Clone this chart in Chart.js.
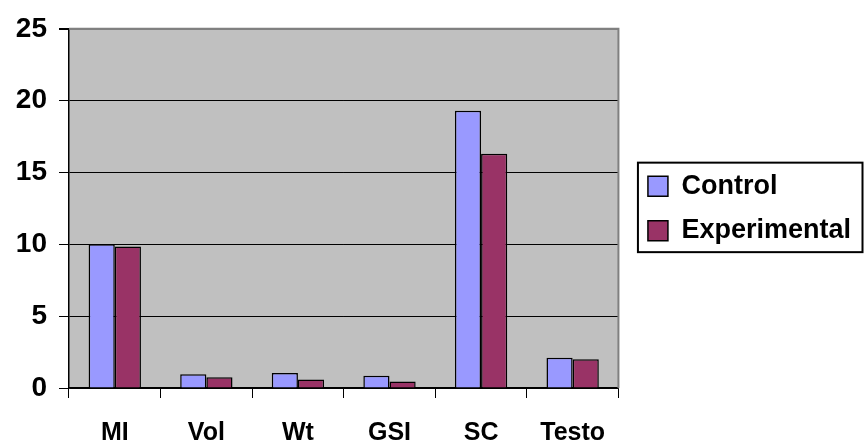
<!DOCTYPE html>
<html>
<head>
<meta charset="utf-8">
<script src="https://cdn.jsdelivr.net/npm/chart.js@4/dist/chart.umd.min.js"></script>
<style>
  html, body { margin: 0; padding: 0; background: #ffffff; }
  #chart { display: block; }
</style>
</head>
<body>
<canvas id="chart" width="864" height="444"></canvas>
<script>
// Measured parameters, control vs experimental group
const categories = ['MI', 'Vol', 'Wt', 'GSI', 'SC', 'Testo'];
const controlValues = [10.0, 0.95, 1.05, 0.85, 19.3, 2.1];
const experimentalValues = [9.85, 0.75, 0.6, 0.45, 16.3, 2.0];
const seriesNames = ['Control', 'Experimental'];
const yMin = 0;
const yMax = 25;
const yStep = 5;

const FONT = 'Liberation Sans, Arial, sans-serif';

// Grey plot background, grey top/right frame and the boxed legend
const plotFrame = {
  id: 'plotFrame',
  beforeDraw(chart) {
    const { ctx, chartArea: a } = chart;
    ctx.save();
    ctx.fillStyle = '#c0c0c0';
    ctx.fillRect(a.left, a.top, a.right - a.left, a.bottom - a.top);
    ctx.restore();
  },
  afterDraw(chart) {
    const { ctx, chartArea: a } = chart;
    ctx.save();
    ctx.strokeStyle = '#808080';
    ctx.lineWidth = 2;
    ctx.beginPath();
    ctx.moveTo(a.left, a.top);
    ctx.lineTo(a.right, a.top);
    ctx.lineTo(a.right, a.bottom);
    ctx.stroke();

    const lg = chart.legend;
    const boxes = lg.legendHitBoxes;
    if (boxes && boxes.length) {
      const first = boxes[0];
      const last = boxes[boxes.length - 1];
      const x0 = first.left - 10;
      const y0 = first.top - 10;
      const x1 = chart.width - 1.5;
      const y1 = last.top + last.height + 8;
      ctx.strokeStyle = '#000000';
      ctx.lineWidth = 2;
      ctx.strokeRect(x0, y0, x1 - x0, y1 - y0);
    }
    ctx.restore();
  }
};

const datasets = [
  {
    label: seriesNames[0],
    data: controlValues,
    backgroundColor: '#9999ff',
    borderColor: '#000000',
    borderWidth: 1.5,
    xAxisID: 'x',
    yAxisID: 'y'
  },
  {
    label: seriesNames[1],
    data: experimentalValues,
    backgroundColor: '#993366',
    borderColor: '#000000',
    borderWidth: 1.5,
    xAxisID: 'x',
    yAxisID: 'y'
  }
];

new Chart(document.getElementById('chart'), {
  type: 'bar',
  data: { labels: categories, datasets },
  plugins: [plotFrame],
  options: {
    responsive: false,
    animation: false,
    devicePixelRatio: 1,
    datasets: {
      bar: { categoryPercentage: 2 / 3.5, barPercentage: 1.0 }
    },
    layout: { padding: { top: 23, right: 3, bottom: 0, left: 0 } },
    plugins: {
      tooltip: { enabled: false },
      legend: {
        position: 'right',
        align: 'center',
        fullSize: false,
        maxWidth: 260,
        labels: {
          color: '#000000',
          font: { family: FONT, size: 27, weight: 'bold' },
          boxWidth: 20,
          boxHeight: 20,
          padding: 17.5
        }
      }
    },
    scales: {
      x: {
        offset: true,
        grid: {
          display: true,
          offset: true,
          drawOnChartArea: false,
          drawTicks: true,
          tickLength: 10,
          color: '#000000',
          lineWidth: 1
        },
        border: { display: true, color: '#000000', width: 1.5 },
        ticks: {
          color: '#000000',
          font: { family: FONT, size: 25, weight: 'bold' },
          padding: 20,
          maxRotation: 0,
          autoSkip: false
        },
        afterFit(scale) { scale.height = 56; }
      },
      y: {
        min: yMin,
        max: yMax,
        ticks: {
          stepSize: yStep,
          color: '#000000',
          padding: 12,
          font: { family: FONT, size: 28, weight: 'bold' }
        },
        grid: {
          color: (c) => (c.tick && c.tick.value === yMax ? '#808080' : '#000000'),
          lineWidth: (c) => (c.tick && c.tick.value === yMax ? 2 : 1),
          tickColor: '#000000',
          tickLength: 10,
          drawTicks: true
        },
        border: { display: true, color: '#000000', width: 1.5 },
        afterFit(scale) { scale.width = 69; }
      },
      gap: {
        type: 'linear',
        axis: 'y',
        position: 'right',
        display: true,
        grid: { display: false, drawTicks: false },
        border: { display: false },
        ticks: { display: false },
        afterFit(scale) { scale.width = 12; }
      }
    }
  }
});
</script>
</body>
</html>
